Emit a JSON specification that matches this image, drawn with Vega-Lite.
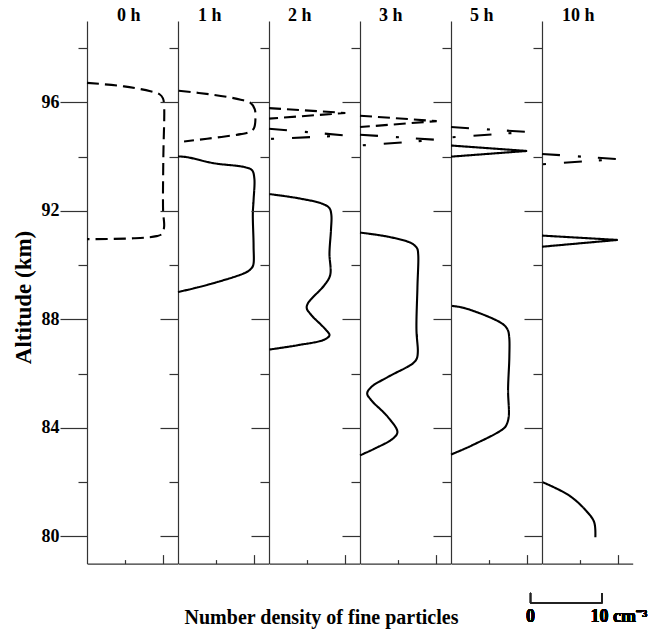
{
  "$schema": "https://vega.github.io/schema/vega-lite/v6.json",
  "padding": {"left": 12, "top": 7, "right": 5, "bottom": 5},
  "spacing": 0,
  "bounds": "flush",
  "datasets": {
    "p": [
      {"t":"0 h","s":"a0","k":"dashed","g":"c","i":0,"n":0,"a":96.72},
      {"t":"0 h","s":"a0","k":"dashed","g":"c","i":1,"n":4.9,"a":96.59},
      {"t":"0 h","s":"a0","k":"dashed","g":"c","i":2,"n":8.4,"a":96.41},
      {"t":"0 h","s":"a0","k":"dashed","g":"c","i":3,"n":9.6,"a":96.3},
      {"t":"0 h","s":"a0","k":"dashed","g":"c","i":4,"n":10.05,"a":96.15},
      {"t":"0 h","s":"a0","k":"dashed","g":"c","i":5,"n":10.2,"a":95.9},
      {"t":"0 h","s":"a0","k":"dashed","g":"c","i":6,"n":10.1,"a":94.0},
      {"t":"0 h","s":"a0","k":"dashed","g":"c","i":7,"n":10.07,"a":92.0},
      {"t":"0 h","s":"a0","k":"dashed","g":"c","i":8,"n":10.2,"a":91.4},
      {"t":"0 h","s":"a0","k":"dashed","g":"c","i":9,"n":9.9,"a":91.15},
      {"t":"0 h","s":"a0","k":"dashed","g":"c","i":10,"n":9.2,"a":91.07},
      {"t":"0 h","s":"a0","k":"dashed","g":"c","i":11,"n":6.2,"a":90.99},
      {"t":"0 h","s":"a0","k":"dashed","g":"c","i":12,"n":0,"a":90.96},

      {"t":"1 h","s":"b1","k":"dashed","g":"c","i":0,"n":0.1,"a":96.43},
      {"t":"1 h","s":"b1","k":"dashed","g":"c","i":1,"n":4.7,"a":96.28},
      {"t":"1 h","s":"b1","k":"dashed","g":"c","i":2,"n":8.3,"a":96.1},
      {"t":"1 h","s":"b1","k":"dashed","g":"c","i":3,"n":9.6,"a":95.98},
      {"t":"1 h","s":"b1","k":"dashed","g":"c","i":4,"n":10.15,"a":95.75},
      {"t":"1 h","s":"b1","k":"dashed","g":"c","i":5,"n":10.25,"a":95.45},
      {"t":"1 h","s":"b1","k":"dashed","g":"c","i":6,"n":10.05,"a":95.05},
      {"t":"1 h","s":"b1","k":"dashed","g":"c","i":7,"n":9.4,"a":94.9},
      {"t":"1 h","s":"b1","k":"dashed","g":"c","i":8,"n":8.3,"a":94.83},
      {"t":"1 h","s":"b1","k":"dashed","g":"c","i":9,"n":3.85,"a":94.66},
      {"t":"1 h","s":"b1","k":"dashed","g":"c","i":10,"n":0.8,"a":94.56},

      {"t":"1 h","s":"c1","k":"solid","g":"c","i":0,"n":0,"a":94.01},
      {"t":"1 h","s":"c1","k":"solid","g":"c","i":1,"n":1.2,"a":93.98},
      {"t":"1 h","s":"c1","k":"solid","g":"c","i":2,"n":4.7,"a":93.76},
      {"t":"1 h","s":"c1","k":"solid","g":"c","i":3,"n":8.9,"a":93.61},
      {"t":"1 h","s":"c1","k":"solid","g":"c","i":4,"n":9.8,"a":93.5},
      {"t":"1 h","s":"c1","k":"solid","g":"c","i":5,"n":10.1,"a":93.2},
      {"t":"1 h","s":"c1","k":"solid","g":"c","i":6,"n":10.0,"a":92.4},
      {"t":"1 h","s":"c1","k":"solid","g":"c","i":7,"n":9.9,"a":91.9},
      {"t":"1 h","s":"c1","k":"solid","g":"c","i":8,"n":10.0,"a":90.7},
      {"t":"1 h","s":"c1","k":"solid","g":"c","i":9,"n":9.95,"a":90.0},
      {"t":"1 h","s":"c1","k":"solid","g":"c","i":10,"n":9.6,"a":89.85},
      {"t":"1 h","s":"c1","k":"solid","g":"c","i":11,"n":8.9,"a":89.72},
      {"t":"1 h","s":"c1","k":"solid","g":"c","i":12,"n":3.84,"a":89.27},
      {"t":"1 h","s":"c1","k":"solid","g":"c","i":13,"n":0,"a":89.01},

      {"t":"2 h","s":"c2","k":"solid","g":"c","i":0,"n":0.05,"a":92.62},
      {"t":"2 h","s":"c2","k":"solid","g":"c","i":1,"n":3.8,"a":92.47},
      {"t":"2 h","s":"c2","k":"solid","g":"c","i":2,"n":7.1,"a":92.26},
      {"t":"2 h","s":"c2","k":"solid","g":"c","i":3,"n":8.0,"a":92.1},
      {"t":"2 h","s":"c2","k":"solid","g":"c","i":4,"n":8.25,"a":91.85},
      {"t":"2 h","s":"c2","k":"solid","g":"c","i":5,"n":8.2,"a":91.3},
      {"t":"2 h","s":"c2","k":"solid","g":"c","i":6,"n":8.0,"a":90.44},
      {"t":"2 h","s":"c2","k":"solid","g":"c","i":7,"n":8.1,"a":89.64},
      {"t":"2 h","s":"c2","k":"solid","g":"c","i":8,"n":7.35,"a":89.27},
      {"t":"2 h","s":"c2","k":"solid","g":"c","i":9,"n":5.14,"a":88.59},
      {"t":"2 h","s":"c2","k":"solid","g":"c","i":10,"n":5.0,"a":88.41},
      {"t":"2 h","s":"c2","k":"solid","g":"c","i":11,"n":5.6,"a":88.16},
      {"t":"2 h","s":"c2","k":"solid","g":"c","i":12,"n":7.35,"a":87.67},
      {"t":"2 h","s":"c2","k":"solid","g":"c","i":13,"n":8.0,"a":87.42},
      {"t":"2 h","s":"c2","k":"solid","g":"c","i":14,"n":7.35,"a":87.26},
      {"t":"2 h","s":"c2","k":"solid","g":"c","i":15,"n":3.8,"a":87.05},
      {"t":"2 h","s":"c2","k":"solid","g":"c","i":16,"n":0.05,"a":86.89},

      {"t":"2 h","s":"d2","k":"dashed","g":"s","i":0,"n":0,"a":95.79},
      {"t":"2 h","s":"d2","k":"dashed","g":"s","i":1,"n":10.1,"a":95.61},
      {"t":"2 h","s":"d2","k":"dashed","g":"s","i":2,"n":0,"a":95.4},
      {"t":"2 h","s":"e2","k":"dashdot","g":"s","i":0,"n":0,"a":95.03},
      {"t":"2 h","s":"e2","k":"dashdot","g":"s","i":1,"n":10.1,"a":94.78},
      {"t":"2 h","s":"e2","k":"dashdot","g":"s","i":2,"n":0,"a":94.65},

      {"t":"3 h","s":"c3","k":"solid","g":"c","i":0,"n":0,"a":91.2},
      {"t":"3 h","s":"c3","k":"solid","g":"c","i":1,"n":3.7,"a":91.05},
      {"t":"3 h","s":"c3","k":"solid","g":"c","i":2,"n":6.8,"a":90.81},
      {"t":"3 h","s":"c3","k":"solid","g":"c","i":3,"n":7.55,"a":90.62},
      {"t":"3 h","s":"c3","k":"solid","g":"c","i":4,"n":7.7,"a":90.4},
      {"t":"3 h","s":"c3","k":"solid","g":"c","i":5,"n":7.6,"a":89.2},
      {"t":"3 h","s":"c3","k":"solid","g":"c","i":6,"n":7.47,"a":87.61},
      {"t":"3 h","s":"c3","k":"solid","g":"c","i":7,"n":7.65,"a":86.8},
      {"t":"3 h","s":"c3","k":"solid","g":"c","i":8,"n":7.5,"a":86.55},
      {"t":"3 h","s":"c3","k":"solid","g":"c","i":9,"n":7.0,"a":86.38},
      {"t":"3 h","s":"c3","k":"solid","g":"c","i":10,"n":3.7,"a":85.88},
      {"t":"3 h","s":"c3","k":"solid","g":"c","i":11,"n":1.5,"a":85.51},
      {"t":"3 h","s":"c3","k":"solid","g":"c","i":12,"n":0.95,"a":85.27},
      {"t":"3 h","s":"c3","k":"solid","g":"c","i":13,"n":1.5,"a":85.02},
      {"t":"3 h","s":"c3","k":"solid","g":"c","i":14,"n":3.7,"a":84.4},
      {"t":"3 h","s":"c3","k":"solid","g":"c","i":15,"n":4.95,"a":83.85},
      {"t":"3 h","s":"c3","k":"solid","g":"c","i":16,"n":4.37,"a":83.61},
      {"t":"3 h","s":"c3","k":"solid","g":"c","i":17,"n":1.95,"a":83.24},
      {"t":"3 h","s":"c3","k":"solid","g":"c","i":18,"n":0,"a":82.99},

      {"t":"3 h","s":"d3","k":"dashed","g":"s","i":0,"n":0,"a":95.51},
      {"t":"3 h","s":"d3","k":"dashed","g":"s","i":1,"n":10.15,"a":95.31},
      {"t":"3 h","s":"d3","k":"dashed","g":"s","i":2,"n":0,"a":95.09},
      {"t":"3 h","s":"e3","k":"dashdot","g":"s","i":0,"n":0,"a":94.81},
      {"t":"3 h","s":"e3","k":"dashdot","g":"s","i":1,"n":10.15,"a":94.62},
      {"t":"3 h","s":"e3","k":"dashdot","g":"s","i":2,"n":0,"a":94.41},

      {"t":"5 h","s":"c5","k":"solid","g":"c","i":0,"n":0.13,"a":88.5},
      {"t":"5 h","s":"c5","k":"solid","g":"c","i":1,"n":1.9,"a":88.41},
      {"t":"5 h","s":"c5","k":"solid","g":"c","i":2,"n":6.75,"a":87.85},
      {"t":"5 h","s":"c5","k":"solid","g":"c","i":3,"n":7.5,"a":87.62},
      {"t":"5 h","s":"c5","k":"solid","g":"c","i":4,"n":7.7,"a":87.35},
      {"t":"5 h","s":"c5","k":"solid","g":"c","i":5,"n":7.72,"a":86.62},
      {"t":"5 h","s":"c5","k":"solid","g":"c","i":6,"n":7.55,"a":85.39},
      {"t":"5 h","s":"c5","k":"solid","g":"c","i":7,"n":7.65,"a":84.45},
      {"t":"5 h","s":"c5","k":"solid","g":"c","i":8,"n":7.4,"a":84.15},
      {"t":"5 h","s":"c5","k":"solid","g":"c","i":9,"n":6.97,"a":83.98},
      {"t":"5 h","s":"c5","k":"solid","g":"c","i":10,"n":2.8,"a":83.36},
      {"t":"5 h","s":"c5","k":"solid","g":"c","i":11,"n":0,"a":83.02},

      {"t":"5 h","s":"e5","k":"dashdot","g":"s","i":0,"n":0,"a":95.09},
      {"t":"5 h","s":"e5","k":"dashdot","g":"s","i":1,"n":10.07,"a":94.91},
      {"t":"5 h","s":"e5","k":"dashdot","g":"s","i":2,"n":0,"a":94.71},
      {"t":"5 h","s":"f5","k":"solid","g":"s","i":0,"n":0,"a":94.41},
      {"t":"5 h","s":"f5","k":"solid","g":"s","i":1,"n":10.07,"a":94.21},
      {"t":"5 h","s":"f5","k":"solid","g":"s","i":2,"n":0,"a":94.0},

      {"t":"10 h","s":"c10","k":"solid","g":"c","i":0,"n":0.1,"a":82.0},
      {"t":"10 h","s":"c10","k":"solid","g":"c","i":1,"n":3.6,"a":81.51},
      {"t":"10 h","s":"c10","k":"solid","g":"c","i":2,"n":5.8,"a":80.96},
      {"t":"10 h","s":"c10","k":"solid","g":"c","i":3,"n":6.9,"a":80.53},
      {"t":"10 h","s":"c10","k":"solid","g":"c","i":4,"n":7.06,"a":79.97},

      {"t":"10 h","s":"e10","k":"dashdot","g":"s","i":0,"n":0,"a":94.1},
      {"t":"10 h","s":"e10","k":"dashdot","g":"s","i":1,"n":10.03,"a":93.91},
      {"t":"10 h","s":"e10","k":"dashdot","g":"s","i":2,"n":0,"a":93.72},
      {"t":"10 h","s":"f10","k":"solid","g":"s","i":0,"n":0,"a":91.09},
      {"t":"10 h","s":"f10","k":"solid","g":"s","i":1,"n":10.03,"a":90.93},
      {"t":"10 h","s":"f10","k":"solid","g":"s","i":2,"n":0,"a":90.68}
    ]
  },
  "hconcat": [
    {
      "width": 90.7, "height": 542.6,
      "title": {"text": "0 h", "dx": 30},
      "data": {"name": "p"},
      "transform": [{"filter": "datum.t === '0 h'"}],
      "mark": {"type": "line", "interpolate": "catmull-rom"},
      "encoding": {
        "x": {"field": "n", "type": "quantitative", "scale": {"domain": [0, 12], "nice": false},
              "axis": {"values": [5, 10], "labels": false, "title": "Number density of fine particles",
                       "titleX": 234, "titleY": 60, "titleAlign": "center", "titleBaseline": "alphabetic", "titleFontSize": 20,
                       "tickSize": {"condition": {"test": "datum.value === 10", "value": -9}, "value": -4}}},
        "y": {"field": "a", "type": "quantitative", "scale": {"domain": [79, 99], "nice": false},
              "axis": {"values": [80, 82, 84, 86, 88, 90, 92, 94, 96, 98],
                       "labelExpr": "datum.value % 4 === 0 ? datum.label : ''",
                       "tickSize": {"condition": {"test": "datum.value % 4 === 0", "value": 27}, "value": 9},
                       "labelPadding": 1, "labelFontSize": 18,
                       "title": "Altitude (km)", "titleFontSize": 23, "titleX": -64, "titleY": 276,
                       "titleAlign": "center", "titleBaseline": "middle", "titleAngle": -90}},
        "order": {"field": "i"},
        "detail": {"field": "s"},
        "strokeDash": {"field": "k", "type": "nominal", "scale": {"domain": ["solid", "dashed", "dashdot"], "range": [[1, 0], [12, 6], [18, 18, 3, 17]]}, "legend": null}
      }
    },
    {
      "width": 90.7, "height": 542.6,
      "title": {"text": "1 h", "dx": 20},
      "data": {"name": "p"},
      "transform": [{"filter": "datum.t === '1 h'"}],
      "mark": {"type": "line", "interpolate": "catmull-rom"},
      "encoding": {
        "x": {"field": "n", "type": "quantitative", "scale": {"domain": [0, 12], "nice": false},
              "axis": {"values": [5, 10], "labels": false, "title": null,
                       "tickSize": {"condition": {"test": "datum.value === 10", "value": -9}, "value": -4}}},
        "y": {"field": "a", "type": "quantitative", "scale": {"domain": [79, 99], "nice": false},
              "axis": {"values": [80, 82, 84, 86, 88, 90, 92, 94, 96, 98], "labels": false, "title": null,
                       "tickSize": {"condition": {"test": "datum.value % 4 === 0", "value": 18}, "value": 9}}},
        "order": {"field": "i"},
        "detail": {"field": "s"},
        "strokeDash": {"field": "k", "type": "nominal", "scale": {"domain": ["solid", "dashed", "dashdot"], "range": [[1, 0], [12, 6], [18, 18, 3, 17]]}, "legend": null}
      }
    },
    {
      "width": 90.7, "height": 542.6,
      "title": {"text": "2 h", "dx": 19},
      "data": {"name": "p"},
      "transform": [{"filter": "datum.t === '2 h'"}],
      "encoding": {
        "x": {"field": "n", "type": "quantitative", "scale": {"domain": [0, 12], "nice": false},
              "axis": {"values": [5, 10], "labels": false, "title": null,
                       "tickSize": {"condition": {"test": "datum.value === 10", "value": -9}, "value": -4}}},
        "y": {"field": "a", "type": "quantitative", "scale": {"domain": [79, 99], "nice": false},
              "axis": {"values": [80, 82, 84, 86, 88, 90, 92, 94, 96, 98], "labels": false, "title": null,
                       "tickSize": {"condition": {"test": "datum.value % 4 === 0", "value": 18}, "value": 9}}},
        "order": {"field": "i"},
        "detail": {"field": "s"},
        "strokeDash": {"field": "k", "type": "nominal", "scale": {"domain": ["solid", "dashed", "dashdot"], "range": [[1, 0], [12, 6], [18, 18, 3, 17]]}, "legend": null}
      },
      "layer": [
        {"transform": [{"filter": "datum.g === 'c'"}], "mark": {"type": "line", "interpolate": "catmull-rom"}},
        {"transform": [{"filter": "datum.g === 's'"}], "mark": {"type": "line", "interpolate": "linear"}}
      ]
    },
    {
      "width": 90.7, "height": 542.6,
      "title": {"text": "3 h", "dx": 19},
      "data": {"name": "p"},
      "transform": [{"filter": "datum.t === '3 h'"}],
      "encoding": {
        "x": {"field": "n", "type": "quantitative", "scale": {"domain": [0, 12], "nice": false},
              "axis": {"values": [5, 10], "labels": false, "title": null,
                       "tickSize": {"condition": {"test": "datum.value === 10", "value": -9}, "value": -4}}},
        "y": {"field": "a", "type": "quantitative", "scale": {"domain": [79, 99], "nice": false},
              "axis": {"values": [80, 82, 84, 86, 88, 90, 92, 94, 96, 98], "labels": false, "title": null,
                       "tickSize": {"condition": {"test": "datum.value % 4 === 0", "value": 18}, "value": 9}}},
        "order": {"field": "i"},
        "detail": {"field": "s"},
        "strokeDash": {"field": "k", "type": "nominal", "scale": {"domain": ["solid", "dashed", "dashdot"], "range": [[1, 0], [12, 6], [18, 18, 3, 17]]}, "legend": null}
      },
      "layer": [
        {"transform": [{"filter": "datum.g === 'c'"}], "mark": {"type": "line", "interpolate": "catmull-rom"}},
        {"transform": [{"filter": "datum.g === 's'"}], "mark": {"type": "line", "interpolate": "linear"}}
      ]
    },
    {
      "width": 90.7, "height": 542.6,
      "title": {"text": "5 h", "dx": 19},
      "data": {"name": "p"},
      "transform": [{"filter": "datum.t === '5 h'"}],
      "encoding": {
        "x": {"field": "n", "type": "quantitative", "scale": {"domain": [0, 12], "nice": false},
              "axis": {"values": [5, 10], "labels": false, "title": null,
                       "tickSize": {"condition": {"test": "datum.value === 10", "value": -9}, "value": -4}}},
        "y": {"field": "a", "type": "quantitative", "scale": {"domain": [79, 99], "nice": false},
              "axis": {"values": [80, 82, 84, 86, 88, 90, 92, 94, 96, 98], "labels": false, "title": null,
                       "tickSize": {"condition": {"test": "datum.value % 4 === 0", "value": 18}, "value": 9}}},
        "order": {"field": "i"},
        "detail": {"field": "s"},
        "strokeDash": {"field": "k", "type": "nominal", "scale": {"domain": ["solid", "dashed", "dashdot"], "range": [[1, 0], [12, 6], [18, 18, 3, 17]]}, "legend": null}
      },
      "layer": [
        {"transform": [{"filter": "datum.g === 'c'"}], "mark": {"type": "line", "interpolate": "catmull-rom"}},
        {"transform": [{"filter": "datum.g === 's'"}], "mark": {"type": "line", "interpolate": "linear"}}
      ]
    },
    {
      "width": 90.7, "height": 542.6,
      "title": {"text": "10 h", "dx": 20},
      "data": {"name": "p"},
      "transform": [{"filter": "datum.t === '10 h'"}],
      "layer": [
        {"transform": [{"filter": "datum.g === 'c'"}], "mark": {"type": "line", "interpolate": "catmull-rom"},
         "encoding": {
          "x": {"field": "n", "type": "quantitative", "scale": {"domain": [0, 12], "nice": false},
                "axis": {"values": [5, 10], "labels": false, "title": null,
                         "tickSize": {"condition": {"test": "datum.value === 10", "value": -9}, "value": -4}}},
          "y": {"field": "a", "type": "quantitative", "scale": {"domain": [79, 99], "nice": false},
                "axis": {"values": [80, 82, 84, 86, 88, 90, 92, 94, 96, 98], "labels": false, "title": null,
                         "tickSize": {"condition": {"test": "datum.value % 4 === 0", "value": 18}, "value": 9}}},
          "order": {"field": "i"},
          "detail": {"field": "s"},
          "strokeDash": {"field": "k", "type": "nominal", "scale": {"domain": ["solid", "dashed", "dashdot"], "range": [[1, 0], [12, 6], [18, 18, 3, 17]]}, "legend": null}
         }},
        {"transform": [{"filter": "datum.g === 's'"}], "mark": {"type": "line", "interpolate": "linear"},
         "encoding": {
          "x": {"field": "n", "type": "quantitative"},
          "y": {"field": "a", "type": "quantitative"},
          "order": {"field": "i"},
          "detail": {"field": "s"},
          "strokeDash": {"field": "k", "type": "nominal", "scale": {"domain": ["solid", "dashed", "dashdot"], "range": [[1, 0], [12, 6], [18, 18, 3, 17]]}, "legend": null}
         }},
        {"mark": {"type": "rule", "color": "#222", "strokeWidth": 1.2},
         "encoding": {"x": {"datum": -1.52, "type": "quantitative"}, "x2": {"datum": 7.97}, "y": {"datum": 77.55, "type": "quantitative"}}},
        {"mark": {"type": "rule", "color": "#222", "strokeWidth": 1.2},
         "encoding": {"x": {"datum": -1.52, "type": "quantitative"}, "y": {"datum": 77.55, "type": "quantitative"}, "y2": {"datum": 77.92}}},
        {"mark": {"type": "rule", "color": "#222", "strokeWidth": 1.2},
         "encoding": {"x": {"datum": 7.97, "type": "quantitative"}, "y": {"datum": 77.55, "type": "quantitative"}, "y2": {"datum": 77.92}}},
        {"mark": {"type": "text", "align": "center", "baseline": "alphabetic", "fontSize": 18, "fontWeight": "bold", "font": "Liberation Serif", "color": "black"},
         "encoding": {"x": {"datum": -1.52, "type": "quantitative"}, "y": {"datum": 76.83, "type": "quantitative"}, "text": {"value": "0"}}},
        {"mark": {"type": "text", "align": "left", "baseline": "alphabetic", "fontSize": 18, "fontWeight": "bold", "font": "Liberation Serif", "color": "black"},
         "encoding": {"x": {"datum": 6.42, "type": "quantitative"}, "y": {"datum": 76.83, "type": "quantitative"}, "text": {"value": "10 cm⁻³"}}}
      ]
    }
  ],
  "config": {
    "view": {"stroke": null},
    "font": "Liberation Serif",
    "line": {"color": "black", "strokeWidth": 2.1},
    "title": {"anchor": "start", "frame": "group", "offset": -4, "baseline": "alphabetic", "fontSize": 18, "font": "Liberation Serif", "fontWeight": "bold", "color": "black"},
    "axis": {"grid": false, "domainColor": "#333", "domainWidth": 1.2, "tickColor": "#333", "tickWidth": 1.2,
             "labelFont": "Liberation Serif", "labelFontWeight": "bold", "labelColor": "black",
             "titleFont": "Liberation Serif", "titleFontWeight": "bold", "titleColor": "black"}
  }
}
